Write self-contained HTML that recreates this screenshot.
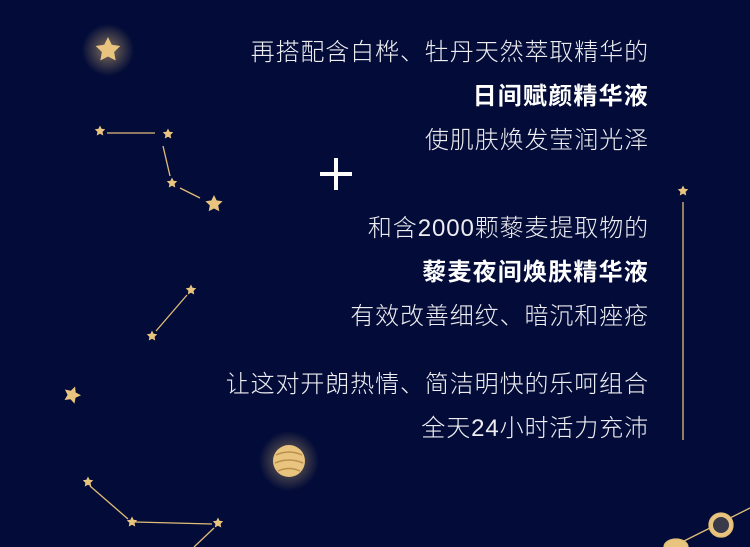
<!DOCTYPE html>
<html><head><meta charset="utf-8"><style>
body{margin:0;width:750px;height:547px;overflow:hidden;background:#030c38;font-family:"Liberation Sans","Noto Sans CJK SC",sans-serif;}
#wrap{position:relative;width:750px;height:547px;}
.t{position:absolute;right:101px;color:#eeeef2;font-size:24px;line-height:30px;white-space:nowrap;letter-spacing:0.9px;font-weight:300}
.b{font-weight:bold;color:#fff;letter-spacing:1.2px}
svg{position:absolute;left:0;top:0}
</style></head><body>
<div id="wrap">
<svg width="750" height="547">
<defs>
<radialGradient id="glow"><stop offset="0" stop-color="#e8c27a" stop-opacity="0.55"/><stop offset="1" stop-color="#e8c27a" stop-opacity="0"/></radialGradient>
<polygon id="st" points="0,-10 2.9,-4 9.5,-3.1 4.7,1.5 5.9,8.1 0,5 -5.9,8.1 -4.7,1.5 -9.5,-3.1 -2.9,-4"/>
</defs>
<g fill="#e9c47f" stroke="#e2bd78" stroke-width="1.3">
<circle cx="108" cy="50" r="26" fill="url(#glow)" stroke="none"/>
<use href="#st" transform="translate(108,50) scale(1.3)" stroke="none"/>
<line x1="107" y1="133" x2="155" y2="133"/>
<line x1="163" y1="146" x2="170" y2="176"/>
<line x1="180" y1="188" x2="200" y2="198"/>
<use href="#st" transform="translate(100,131) scale(0.55)" stroke="none"/>
<use href="#st" transform="translate(168,134) scale(0.55)" stroke="none"/>
<use href="#st" transform="translate(172,183) scale(0.55)" stroke="none"/>
<use href="#st" transform="translate(214,204) scale(0.9)" stroke="none"/>
<line x1="156" y1="331" x2="187" y2="295"/>
<use href="#st" transform="translate(191,290) scale(0.55)" stroke="none"/>
<use href="#st" transform="translate(152,336) scale(0.55)" stroke="none"/>
<use href="#st" transform="translate(72,395) scale(0.9) rotate(20)" stroke="none"/>
<line x1="683" y1="202" x2="683" y2="440"/>
<use href="#st" transform="translate(683,191) scale(0.55)" stroke="none"/>
<line x1="90" y1="486" x2="128" y2="519"/>
<line x1="135" y1="522" x2="212" y2="524"/>
<line x1="214" y1="528" x2="194" y2="547"/>
<use href="#st" transform="translate(88,482) scale(0.55)" stroke="none"/>
<use href="#st" transform="translate(132,522) scale(0.55)" stroke="none"/>
<use href="#st" transform="translate(218,523) scale(0.55)" stroke="none"/>
<circle cx="289" cy="461" r="30" fill="url(#glow)" stroke="none"/>
<ellipse cx="289" cy="461" rx="16" ry="16" stroke="none"/>
<path d="M276,455 q13,-6 26,0 M275,463 q14,-6 28,0 M278,471 q11,-5 22,0" stroke="#b88f4c" fill="none" stroke-width="1.5"/>
<line x1="676" y1="545" x2="750" y2="508"/>
<ellipse cx="721" cy="525" rx="12" ry="12"/>
<circle cx="721" cy="525" r="8" fill="#3a3a4a" stroke="none"/>
<ellipse cx="676" cy="547" rx="12" ry="8"/>
</g>
<g stroke="#fff" stroke-width="4"><line x1="320" y1="174" x2="352" y2="174"/><line x1="336" y1="158" x2="336" y2="190"/></g>
</svg>
<div class="t" style="top:38px">再搭配含白桦、牡丹天然萃取精华的</div>
<div class="t b" style="top:82px">日间赋颜精华液</div>
<div class="t" style="top:126px">使肌肤焕发莹润光泽</div>
<div class="t" style="top:214px">和含2000颗藜麦提取物的</div>
<div class="t b" style="top:258px">藜麦夜间焕肤精华液</div>
<div class="t" style="top:302px">有效改善细纹、暗沉和痤疮</div>
<div class="t" style="top:370px">让这对开朗热情、简洁明快的乐呵组合</div>
<div class="t" style="top:414px">全天24小时活力充沛</div>
</div>
</body></html>
